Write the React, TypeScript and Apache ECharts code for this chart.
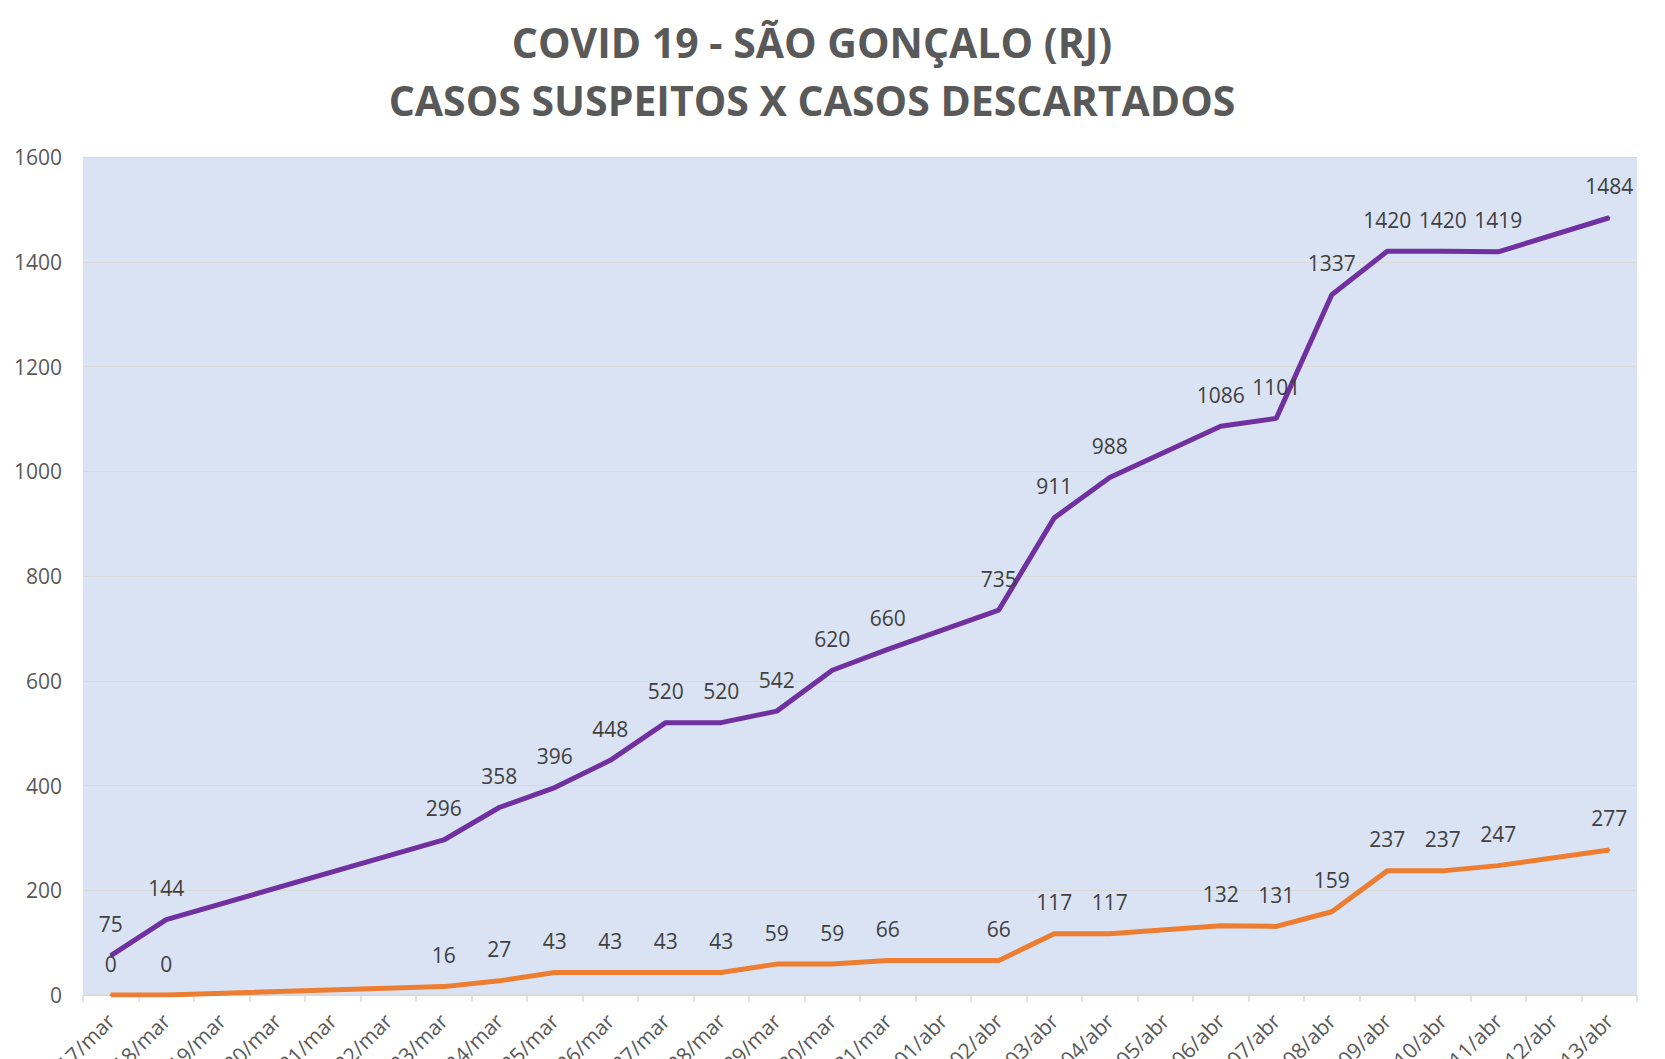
import React, { useEffect, useRef } from "react";
import * as echarts from "echarts";

const categories = [
  "17/mar", "18/mar", "19/mar", "20/mar", "21/mar", "22/mar", "23/mar", "24/mar",
  "25/mar", "26/mar", "27/mar", "28/mar", "29/mar", "30/mar", "31/mar", "01/abr",
  "02/abr", "03/abr", "04/abr", "05/abr", "06/abr", "07/abr", "08/abr", "09/abr",
  "10/abr", "11/abr", "12/abr", "13/abr",
];

const suspeitos = [
  75, 144, null, null, null, null, 296, 358, 396, 448, 520, 520, 542, 620, 660, null,
  735, 911, 988, null, 1086, 1101, 1337, 1420, 1420, 1419, null, 1484,
];

const descartados = [
  0, 0, null, null, null, null, 16, 27, 43, 43, 43, 43, 59, 59, 66, null,
  66, 117, 117, null, 132, 131, 159, 237, 237, 247, null, 277,
];

const yTicks = { min: 0, max: 1600, interval: 200 };

const titleText = "COVID 19 - SÃO GONÇALO (RJ)\nCASOS SUSPEITOS X CASOS DESCARTADOS";

export default function App() {
  const ref = useRef<HTMLDivElement>(null);
  useEffect(() => {
    document.body.style.margin = "0";
    const chart = echarts.init(ref.current!, null, { renderer: "svg" });
    const labelStyle = {
      show: true,
      position: "top" as const,
      distance: 20,
      color: "#404040",
      fontSize: 21,
      fontFamily: "Open Sans",
    };
    chart.setOption({
      animation: false,
      backgroundColor: "#ffffff",
      title: {
        text: titleText,
        left: 807,
        textAlign: "center",
        top: 8,
        textStyle: {
          fontFamily: "Open Sans",
          fontWeight: "bold",
          fontSize: 41,
          lineHeight: 58,
          color: "#595959",
        },
      },
      grid: {
        left: 83,
        right: 28,
        top: 157,
        bottom: 64,
        show: true,
        backgroundColor: "#DAE3F3",
        borderWidth: 0,
        containLabel: false,
        outerBoundsMode: "none",
      },
      xAxis: {
        type: "category",
        data: categories,
        boundaryGap: true,
        axisLine: { show: true, lineStyle: { color: "#D9D9D9", width: 1.5 } },
        axisTick: { show: true, length: 7, lineStyle: { color: "#D9D9D9", width: 1.5 } },
        axisLabel: {
          interval: 0,
          rotate: 45,
          margin: 22,
          fontSize: 21,
          color: "#595959",
          fontFamily: "Open Sans",
        },
      },
      yAxis: {
        type: "value",
        min: yTicks.min,
        max: yTicks.max,
        interval: yTicks.interval,
        axisLine: { show: false },
        axisTick: { show: false },
        splitLine: { show: true, lineStyle: { color: "#D9D9D9", width: 1 } },
        axisLabel: {
          margin: 21,
          fontSize: 21,
          color: "#595959",
          fontFamily: "Open Sans",
          formatter: (v: number) => String(v),
        },
      },
      series: [
        {
          name: "Casos suspeitos",
          type: "line",
          data: suspeitos,
          connectNulls: true,
          showSymbol: true,
          symbol: "circle",
          symbolSize: 2,
          lineStyle: { color: "#7030A0", width: 5 },
          itemStyle: { color: "#7030A0" },
          label: labelStyle,
          labelLayout: { hideOverlap: false },
        },
        {
          name: "Casos descartados",
          type: "line",
          data: descartados,
          connectNulls: true,
          showSymbol: true,
          symbol: "circle",
          symbolSize: 2,
          lineStyle: { color: "#ED7D31", width: 5 },
          itemStyle: { color: "#ED7D31" },
          label: labelStyle,
          labelLayout: { hideOverlap: false },
        },
      ],
    });
    return () => chart.dispose();
  }, []);
  return <div ref={ref} style={{ width: 1665, height: 1059 }} />;
}
